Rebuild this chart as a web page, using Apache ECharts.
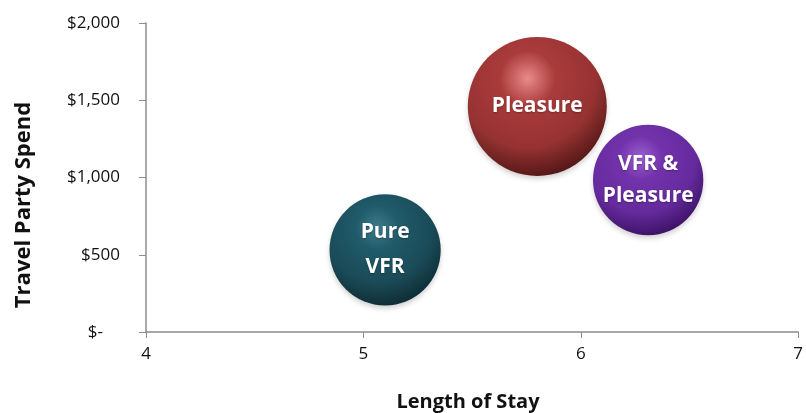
<!DOCTYPE html>
<html>
<head>
<meta charset="utf-8">
<script src="https://cdn.jsdelivr.net/npm/echarts@6/dist/echarts.min.js"></script>
<style>
  html, body { margin: 0; padding: 0; background: #fff; }
  #chart { width: 806px; height: 413px; }
</style>
</head>
<body>
<div id="chart"></div>
<script>
// Trip segments: length of stay (nights), travel party spend ($), relative bubble size
const segments = ['Pure\nVFR', 'Pleasure', 'VFR &\nPleasure'];
const lengthOfStay = [5.1, 5.8, 6.31];
const partySpend = [531, 1460, 984];
const bubbleSize = [64, 100, 63];

const xTicks = [4, 5, 6, 7];
const yTicks = [0, 500, 1000, 1500, 2000];

// sphere shading: highlight, body, shade, rim
const palette = [
  ['#3d7b8b', '#205a69', '#1a4a57', '#0e2c35'],
  ['#ea8a8a', '#aa3b3b', '#963232', '#521616'],
  ['#9c60d2', '#7232ab', '#652a9e', '#3c1264']
];

function sphere(c) {
  return {
    type: 'radial', x: 0.43, y: 0.3, r: 0.8,
    colorStops: [
      { offset: 0, color: c[0] },
      { offset: 0.25, color: c[1] },
      { offset: 0.62, color: c[2] },
      { offset: 0.9, color: c[3] },
      { offset: 1, color: c[3] }
    ]
  };
}

const maxBubble = 139;
const lineHeights = [35, 31, 32];

const data = segments.map((name, i) => ({
  name: name,
  value: [lengthOfStay[i], partySpend[i], bubbleSize[i]],
  itemStyle: {
    color: sphere(palette[i]),
    opacity: 1,
    shadowColor: 'rgba(0,0,0,0.18)',
    shadowBlur: 5,
    shadowOffsetY: 3
  },
  label: { lineHeight: lineHeights[i] }
}));

const FONT = '"Open Sans", Lato, sans-serif';

const chart = echarts.init(document.getElementById('chart'), null, { renderer: 'canvas' });

chart.setOption({
  animation: false,
  backgroundColor: '#ffffff',
  textStyle: { fontFamily: FONT },
  grid: { left: 146, top: 23, width: 660, height: 309, containLabel: false },
  xAxis: {
    type: 'value',
    min: xTicks[0], max: xTicks[xTicks.length - 1], interval: 1,
    axisLine: { show: true, lineStyle: { color: '#8c8c8c', width: 1.5 } },
    axisTick: { show: true, inside: false, length: 6, lineStyle: { color: '#8c8c8c' } },
    splitLine: { show: false },
    axisLabel: { color: '#111', fontSize: 17, margin: 14, fontFamily: FONT }
  },
  yAxis: {
    type: 'value',
    min: yTicks[0], max: yTicks[yTicks.length - 1], interval: 500,
    axisLine: { show: true, lineStyle: { color: '#8c8c8c', width: 1.5 } },
    axisTick: { show: true, inside: false, length: 7, lineStyle: { color: '#8c8c8c' } },
    splitLine: { show: false },
    axisLabel: {
      color: '#111', fontSize: 17, margin: 26, fontFamily: FONT,
      // accounting style: zero shown as a dash, padded on the right
      formatter: v => v === 0 ? '$-\u2002\u2002' : '$' + v.toLocaleString('en-US')
    }
  },
  graphic: [
    {
      type: 'text', x: 24, y: 205, rotation: Math.PI / 2,
      style: {
        text: 'Travel Party Spend', fill: '#111', font: 'bold 22px "Open Sans"',
        textAlign: 'center', textVerticalAlign: 'middle'
      }
    },
    {
      type: 'text', x: 468, y: 402,
      style: {
        text: 'Length of Stay', fill: '#111', font: 'bold 20px "Open Sans"',
        textAlign: 'center', textVerticalAlign: 'middle'
      }
    }
  ],
  series: [{
    type: 'scatter',
    data: data,
    symbol: 'circle',
    symbolSize: v => maxBubble * Math.sqrt(v[2] / 100),
    itemStyle: { opacity: 1 },
    label: {
      show: true, position: 'inside',
      formatter: p => p.name,
      color: '#fff', fontSize: 21, fontWeight: 'bold', fontFamily: FONT,
      textShadowColor: 'rgba(0,0,0,0.3)', textShadowBlur: 2, textShadowOffsetY: 1
    }
  }]
});
</script>
</body>
</html>
